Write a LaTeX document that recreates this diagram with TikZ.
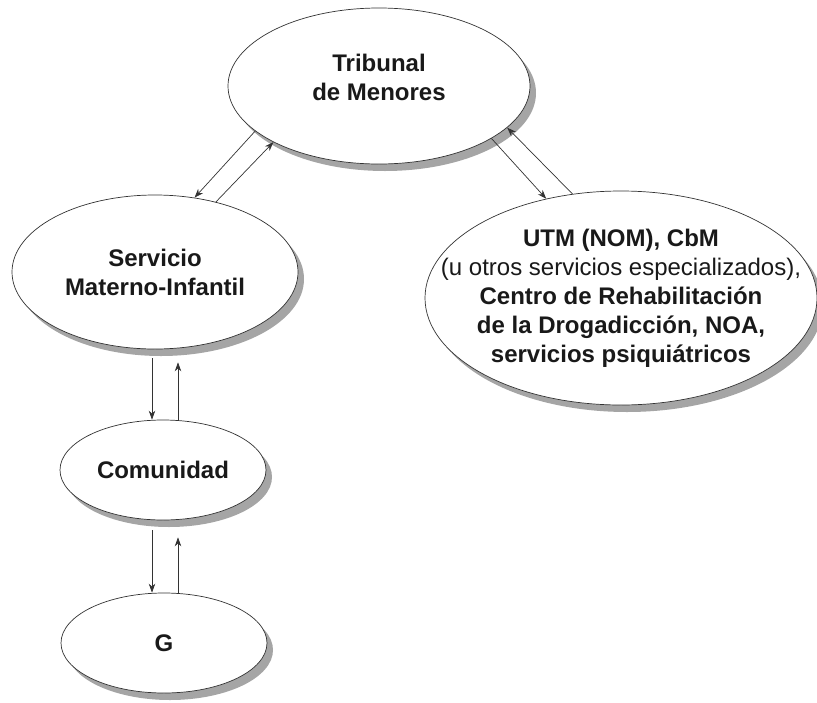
\documentclass[tikz,border=0pt]{standalone}
\usepackage{fontspec}
\setmainfont{Liberation Sans}
\usetikzlibrary{shapes.geometric,arrows.meta}
\definecolor{shadowgray}{RGB}{165,165,165}
\begin{document}
\begin{tikzpicture}[x=1pt,y=-1pt,
  txt/.style={align=center, font=\fontsize{24}{29}\selectfont\bfseries, text=black!90},
  ell/.style={ellipse, draw=black!80, line width=0.7pt, fill=white, inner sep=0pt, txt},
  shadowfill/.style={fill=shadowgray, draw=none},
  arr/.style={draw=black!80, line width=0.7pt, -{Stealth[length=9pt,width=6.5pt]}}
]
\useasboundingbox (0,0) rectangle (817,702);
% shadows
\path[shadowfill] (385,93) ellipse [x radius=151, y radius=78];
\path[shadowfill] (161,279) ellipse [x radius=143, y radius=77];
\path[shadowfill] (169,477) ellipse [x radius=103, y radius=50];
\path[shadowfill] (170,650) ellipse [x radius=103, y radius=50];
\path[shadowfill] (627,305) ellipse [x radius=196, y radius=107];
% nodes
\node[ell, minimum width=302pt, minimum height=156pt,
  label={[txt, yshift=9pt]center:{Tribunal\\de Menores}}] (trib) at (379,86) {};
\node[ell, minimum width=286pt, minimum height=154pt] (serv) at (155,272) {Servicio\\Materno-Infantil};
\node[ell, minimum width=206pt, minimum height=100pt] (com) at (163,470) {Comunidad};
\node[ell, minimum width=206pt, minimum height=100pt] (g) at (164,643) {G};
\node[ell, minimum width=392pt, minimum height=214pt, inner xsep=-50pt, inner ysep=-10pt] (utm) at (621,298)
  {UTM (NOM), CbM\\{\mdseries (u otros servicios especializados),}\\Centro de Rehabilitación\\de la Drogadicción, NOA,\\servicios psiquiátricos};
% connectors
\draw[arr] (trib.200) -- (serv.62);
\draw[arr] (serv.49) -- (trib.208);
\draw[arr] (trib.335) -- (utm.127);
\draw[arr] (utm.115) -- (trib.342);
\draw[arr, shorten <=9pt] ([xshift=-3pt]serv.south) -- ([xshift=-11pt]com.north);
\draw[arr, shorten >=13pt] ([xshift=15pt]com.north) -- ([xshift=23pt]serv.south);
\draw[arr, shorten <=10pt] ([xshift=-11pt]com.south) -- ([xshift=-12pt]g.north);
\draw[arr, shorten >=17pt] ([xshift=14pt]g.north) -- ([xshift=15pt]com.south);
\end{tikzpicture}
\end{document}
